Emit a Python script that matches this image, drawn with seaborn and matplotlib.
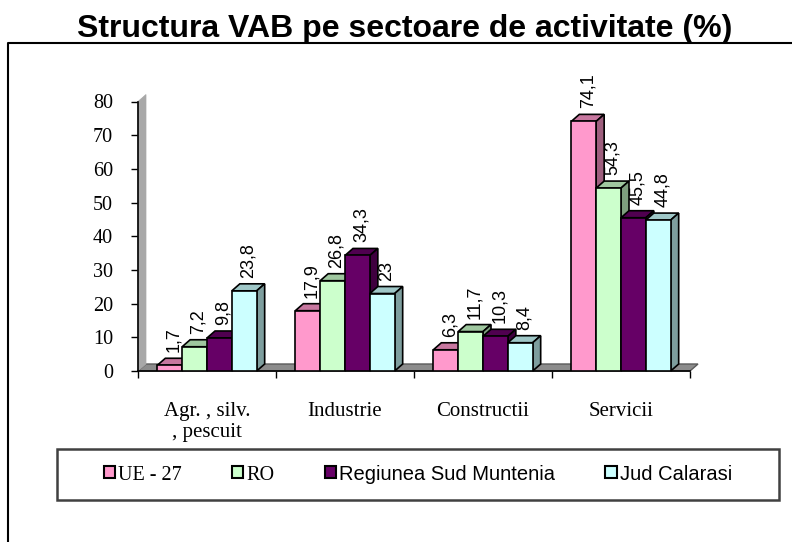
import numpy as np
import pandas as pd
import matplotlib
matplotlib.use('Agg')
import matplotlib.pyplot as plt
from matplotlib.patches import Polygon, Rectangle
from matplotlib.lines import Line2D
import seaborn as sns

# date
sectoare = ['Agr. , silv.\n, pescuit', 'Industrie', 'Constructii', 'Servicii']
serii = ['UE - 27', 'RO', 'Regiunea Sud Muntenia', 'Jud Calarasi']
ue27 = [1.7, 17.9, 6.3, 74.1]
ro = [7.2, 26.8, 11.7, 54.3]
sud_muntenia = [9.8, 34.3, 10.3, 45.5]
calarasi = [23.8, 23.0, 8.4, 44.8]
culori = ['#FF99CC', '#CCFFCC', '#660066', '#CCFFFF']

df = pd.DataFrame({
    'sector': sectoare * 4,
    'serie': np.repeat(serii, len(sectoare)),
    'valoare': ue27 + ro + sud_muntenia + calarasi,
})

sns.set_style('white')
plt.rcParams['font.family'] = ['Liberation Serif', 'DejaVu Serif']
plt.rcParams['text.color'] = 'black'
plt.rcParams['xtick.color'] = 'black'
plt.rcParams['ytick.color'] = 'black'
plt.rcParams['axes.labelcolor'] = 'black'

W, H = 792, 542
fig = plt.figure(figsize=(W / 100, H / 100), dpi=100)
ax = fig.add_axes([138 / W, 1 - 371 / H, 552 / W, 269.5 / H])

sns.barplot(data=df, x='sector', y='valoare', hue='serie', palette=culori,
            width=0.72, gap=0, saturation=1, edgecolor='black', linewidth=1.2,
            legend=False, ax=ax)
bare = sorted(ax.patches, key=lambda p: p.get_x())

ax.set_xlim(-0.5, 3.5)
ax.set_ylim(0, 80)
ax.set_yticks(range(0, 81, 10))
ax.set_xlabel('')
ax.set_ylabel('')
sns.despine(ax=ax)
for s in ['left', 'bottom']:
    ax.spines[s].set_color('black')
    ax.spines[s].set_linewidth(1.2)

# efect 3D (adancime in pixeli)
DX, DY = 8, 7


def spate(x, y):
    px, py = ax.transData.transform((x, y))
    return ax.transData.inverted().transform((px + DX, py + DY))


podea = [(-0.5, 0), (3.5, 0), spate(3.5, 0), spate(-0.5, 0)]
ax.add_patch(Polygon(podea, closed=True, fc='#8C8C8C', ec='#5A5A5A', lw=1,
                     zorder=1, clip_on=False))
perete = [(-0.5, 0), (-0.5, 80), spate(-0.5, 80), spate(-0.5, 0)]
ax.add_patch(Polygon(perete, closed=True, fc='#A8A8A8', ec='#A8A8A8', lw=0.5,
                     zorder=1, clip_on=False))

for k, p in enumerate(bare):
    x0, w, h = p.get_x(), p.get_width(), p.get_height()
    fc = np.array(p.get_facecolor()[:3])
    z = 3 + k * 0.02
    p.set_zorder(z + 0.01)
    sus = [(x0, h), (x0 + w, h), spate(x0 + w, h), spate(x0, h)]
    lat = [(x0 + w, 0), (x0 + w, h), spate(x0 + w, h), spate(x0 + w, 0)]
    ax.add_patch(Polygon(sus, closed=True, fc=fc * 0.78, ec='black', lw=1.2,
                         zorder=z, clip_on=False))
    ax.add_patch(Polygon(lat, closed=True, fc=fc * 0.62, ec='black', lw=1.2,
                         zorder=z, clip_on=False))

    eticheta = f'{h:g}'.replace('.', ',')
    ax.annotate(eticheta, (x0 + w / 2, h), xytext=(DX / 2, DY + 6),
                textcoords='offset pixels', rotation=90, ha='center', va='bottom',
                fontsize=13, family=['Liberation Sans'], color='black',
                annotation_clip=False, zorder=10)

# axe
ax.set_xticks(range(len(sectoare)))
ax.set_xticklabels(sectoare, fontsize=15, linespacing=1.1)
ax.set_xticks([-0.5, 0.5, 1.5, 2.5, 3.5], minor=True)
ax.tick_params(axis='x', which='major', bottom=False, pad=19, labelcolor='black')
ax.tick_params(axis='x', which='minor', bottom=True, length=5, width=1,
               color='black', direction='out')
ax.tick_params(axis='y', left=True, length=5, width=1, color='black',
               direction='out', labelsize=14.5, pad=13, labelcolor='black')

# titlu
fig.text(404.5 / W, 1 - 37 / H, 'Structura VAB pe sectoare de activitate (%)',
         ha='center', va='baseline', fontsize=23, fontweight='bold',
         family='Liberation Sans', color='black')

# chenar exterior
fig.add_artist(Line2D([8 / W, 8 / W, 1], [0, 1 - 43 / H, 1 - 43 / H],
                      color='black', lw=1.5, transform=fig.transFigure))

# legenda
fig.add_artist(Rectangle((57 / W, 1 - 500 / H), 722 / W, 51 / H, fill=False,
                         ec='#404040', lw=1.8, transform=fig.transFigure))
handles = [Rectangle((0, 0), 1, 1, fc=c, ec='black', lw=1.5) for c in culori]
leg = fig.legend(handles, serii, loc='center', bbox_to_anchor=(418 / W, 1 - 474.5 / H),
                 ncol=4, frameon=False, fontsize=14.5, handlelength=0.55,
                 handleheight=0.55, handletextpad=0.15, columnspacing=2.5)
for t in leg.get_texts():
    t.set_color('black')
for t in leg.get_texts()[2:]:
    t.set_family('Liberation Sans')

fig.savefig('out.png', dpi=100)
